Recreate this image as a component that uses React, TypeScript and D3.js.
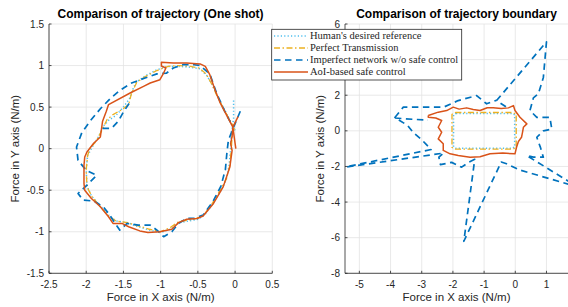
import React from 'react'
import * as d3 from 'd3'

type Pt = [number, number]

// tick values for both panels
const oneShotTicksX = [-2.5, -2, -1.5, -1, -0.5, 0, 0.5]
const oneShotTicksY = [-1.5, -1, -0.5, 0, 0.5, 1, 1.5]
const boundaryTicksX = [-5, -4, -3, -2, -1, 0, 1]
const boundaryTicksY = [-8, -6, -4, -2, 0, 2, 4, 6]

const legendLabels = [
	"Human's desired reference",
	'Perfect Transmission',
	'Imperfect network w/o safe control',
	'AoI-based safe control',
]

// --- left panel: one shot trajectories ---
const oneShotReference: Pt[] = [
	[-0.02, 0.58], [-0.02, 0.36], [-0.05, 0.2], [-0.06, 0.0], [-0.08, -0.2], [-0.12, -0.38],
	[-0.2, -0.52], [-0.3, -0.66], [-0.4, -0.79], [-0.5, -0.85], [-0.62, -0.87], [-0.75, -0.89],
	[-0.85, -0.96], [-1.0, -1.01], [-1.15, -0.98], [-1.3, -0.94], [-1.45, -0.89], [-1.6, -0.87],
	[-1.7, -0.8], [-1.82, -0.68], [-1.93, -0.57], [-1.99, -0.45], [-2.0, -0.25], [-1.98, -0.08],
	[-1.9, 0.05], [-1.83, 0.15], [-1.78, 0.26], [-1.7, 0.34], [-1.6, 0.4], [-1.5, 0.5],
	[-1.42, 0.6], [-1.38, 0.7], [-1.33, 0.8], [-1.2, 0.88], [-1.05, 0.95], [-0.9, 0.99],
	[-0.75, 0.99], [-0.6, 0.98], [-0.47, 0.96], [-0.38, 0.88], [-0.3, 0.76], [-0.22, 0.6],
	[-0.13, 0.45], [-0.05, 0.3], [0.0, 0.22],
]

const oneShotPerfect: Pt[] = [
	[-0.01, 0.25], [-0.04, 0.15], [-0.05, 0.0], [-0.07, -0.2], [-0.12, -0.37], [-0.2, -0.5],
	[-0.3, -0.65], [-0.42, -0.8], [-0.52, -0.84], [-0.64, -0.86], [-0.76, -0.88], [-0.87, -0.95],
	[-1.0, -1.0], [-1.15, -0.97], [-1.3, -0.93], [-1.45, -0.89], [-1.6, -0.87], [-1.7, -0.81],
	[-1.82, -0.69], [-1.92, -0.58], [-1.99, -0.46], [-2.0, -0.25], [-1.98, -0.08], [-1.95, 0.0],
	[-1.86, 0.1], [-1.79, 0.22], [-1.72, 0.35], [-1.64, 0.41], [-1.52, 0.47], [-1.43, 0.53],
	[-1.39, 0.67], [-1.32, 0.8], [-1.2, 0.87], [-1.05, 0.94], [-0.9, 0.99], [-0.75, 1.0],
	[-0.6, 0.99], [-0.48, 0.97], [-0.39, 0.9], [-0.31, 0.77], [-0.23, 0.61], [-0.14, 0.46],
	[-0.06, 0.32], [-0.02, 0.27],
]

// NaN splits the dashed track into its two visible pieces
const oneShotImperfect: Pt[] = [
	[0.07, 0.45], [-0.02, 0.26], [-0.09, 0.1], [-0.11, -0.05], [-0.13, -0.25], [-0.19, -0.45],
	[-0.3, -0.64], [-0.43, -0.8], [-0.55, -0.84], [-0.65, -0.84], [-0.76, -0.9], [-0.85, -1.0],
	[-0.96, -1.06], [-1.05, -0.98], [-1.14, -0.92], [-1.3, -0.92], [-1.45, -0.9], [-1.55, -0.98],
	[-1.61, -0.9], [-1.7, -0.78], [-1.77, -0.7], [-1.9, -0.63], [-2.04, -0.62], [-2.11, -0.54],
	[-1.99, -0.44], [-1.86, -0.32], [-2.0, -0.26], [-2.11, -0.14], [-2.13, 0.02], [-2.06, 0.19],
	[-1.95, 0.33], [-1.81, 0.48], [-1.68, 0.6], [-1.55, 0.7], [-1.39, 0.79], [-1.21, 0.85],
	[-1.05, 0.9], [-0.92, 0.91], [-0.83, 0.97], [-0.7, 1.01], [-0.55, 1.01], [-0.47, 1.0],
	[-0.34, 0.9], [-0.25, 0.67], [-0.14, 0.45], [-0.04, 0.28],
	[NaN, NaN],
	[-1.78, 0.245], [-1.66, 0.245], [-1.57, 0.33], [-1.5, 0.44], [-1.42, 0.55],
]

const oneShotAoI: Pt[] = [
	[0.01, 0.0], [-0.01, 0.13], [-0.03, 0.26], [-0.13, 0.43], [-0.2, 0.55], [-0.27, 0.71],
	[-0.34, 0.89], [-0.4, 0.99], [-0.47, 1.02], [-0.65, 1.03], [-0.83, 1.03], [-0.99, 1.04],
	[-0.99, 0.995], [-0.93, 0.97], [-0.96, 0.91], [-1.01, 0.83], [-1.14, 0.79], [-1.23, 0.75],
	[-1.41, 0.67], [-1.7, 0.53], [-1.73, 0.45], [-1.78, 0.33], [-1.81, 0.14], [-1.9, 0.065],
	[-1.99, -0.04], [-2.02, -0.1], [-2.03, -0.2], [-2.03, -0.42], [-2.02, -0.5], [-1.93, -0.6],
	[-1.81, -0.7], [-1.7, -0.82], [-1.64, -0.9], [-1.52, -0.9], [-1.43, -0.94], [-1.28, -0.99],
	[-1.17, -1.01], [-1.01, -1.0], [-0.85, -0.97], [-0.76, -0.89], [-0.65, -0.85], [-0.51, -0.84],
	[-0.43, -0.81], [-0.29, -0.66], [-0.16, -0.46], [-0.07, -0.22], [-0.04, -0.02], [-0.06, 0.06],
	[-0.04, 0.15], [-0.03, 0.26], [0.04, 0.385],
]

// --- right panel: boundary trajectories ---
const boundaryReference: Pt[] = [
	[-1.9, 0.98], [-0.1, 0.98], [-0.02, 0.9], [-0.02, -0.9], [-0.1, -0.98], [-1.9, -0.98],
	[-1.98, -0.9], [-1.98, 0.9], [-1.9, 0.98],
]

const boundaryPerfect: Pt[] = [
	[-1.92, 1.03], [-0.08, 1.03], [0.03, 0.93], [0.03, -0.93], [-0.08, -1.03], [-1.92, -1.03],
	[-2.03, -0.93], [-2.03, 0.93], [-1.92, 1.03],
]

const boundaryImperfect: Pt[] = [
	[-0.3, 1.35], [-0.6, 1.7], [1.0, 5.0], [0.9, 3.0], [0.74, 2.08], [0.58, 1.85], [0.47, 1.14],
	[0.69, 0.76], [1.11, 0.76], [1.17, 0.1], [0.9, 0.0], [0.69, -0.36], [0.8, -0.9], [0.9, -1.48],
	[0.58, -1.48], [0.37, -1.39], [2.0, -3.15], [0.15, -2.2], [-0.28, -1.85], [-0.45, -1.75],
	[-1.65, -6.2], [-1.3, -1.6], [-1.5, -1.77], [-1.72, -2.04], [-2.04, -1.77], [-2.4, -1.9],
	[-2.45, -1.48], [-2.3, -1.25], [-5.6, -2.08], [-2.7, -1.05], [-3.0, -0.5], [-3.27, -0.1],
	[-3.45, 0.3], [-3.86, 0.75], [-3.59, 1.33], [-2.3, 1.33], [-1.83, 1.7], [-1.24, 1.98],
	[-0.92, 1.52], [-0.6, 1.72],
	[NaN, NaN],
	[-3.86, 0.72], [-3.3, 0.65], [-2.8, 0.6],
]

const boundaryAoI: Pt[] = [
	[-2.79, 0.86], [-2.47, 1.05], [-2.2, 1.14], [-1.99, 1.33], [-1.8, 1.22], [-1.56, 1.29],
	[-1.35, 1.2], [-1.13, 1.14], [-0.9, 1.3], [-0.71, 1.29], [-0.45, 1.25], [-0.22, 1.29],
	[-0.06, 1.42], [-0.01, 1.14], [0.15, 0.76], [0.37, 0.39], [0.26, 0.2], [0.23, -0.1],
	[0.2, -0.36], [0.1, -0.6], [0.04, -0.92], [-0.01, -1.29], [-0.4, -1.25], [-0.81, -1.29],
	[-1.13, -1.45], [-1.45, -1.48], [-1.83, -1.39], [-2.09, -1.29], [-2.31, -1.1], [-2.31, -0.73],
	[-2.47, -0.45], [-2.36, -0.08], [-2.47, 0.2], [-2.36, 0.58], [-2.55, 0.72], [-2.79, 0.76],
	[-2.79, 0.86],
]

const seriesStyles = [
	{ color: '#4DBEEE', width: 1.5, dash: '1.2,2.2' },
	{ color: '#EDB120', width: 1.3, dash: '6,2.5,1.5,2.5' },
	{ color: '#0072BD', width: 1.7, dash: '6.5,4.5' },
	{ color: '#D95319', width: 1.5, dash: undefined as string | undefined },
]

const W = 568
const H = 307
const top = 24
const bottom = 273.3
const axisColor = '#262626'
const font = 'Liberation Sans, Arial, Helvetica, sans-serif'

const legendBox = { x: 271.7, y: 29.3, w: 190, h: 50.7 }

function Panel({ id, x, y, ticksX, ticksY, series, title, titleX, yLabelX, hideTick }: any) {
	const [x0, x1] = x.range()
	const line = d3
		.line<Pt>()
		.defined(d => !isNaN(d[0]))
		.x(d => x(d[0]))
		.y(d => y(d[1]))
	return (
		<g>
			<defs>
				<clipPath id={id}>
					<rect x={x0} y={top} width={x1 - x0} height={bottom - top} />
				</clipPath>
			</defs>
			{ticksX.map((t: number) => (
				<line key={'gx' + t} x1={x(t)} x2={x(t)} y1={top} y2={bottom} stroke="#e3e3e3" strokeWidth={0.8} />
			))}
			{ticksY.map((t: number) => (
				<line key={'gy' + t} x1={x0} x2={x1} y1={y(t)} y2={y(t)} stroke="#e3e3e3" strokeWidth={0.8} />
			))}
			<g clipPath={`url(#${id})`}>
				{series.map((s: Pt[], i: number) => (
					<path
						key={i}
						d={line(s) || ''}
						fill="none"
						stroke={seriesStyles[i].color}
						strokeWidth={seriesStyles[i].width}
						strokeDasharray={seriesStyles[i].dash}
						strokeLinejoin="round"
					/>
				))}
			</g>
			<line x1={x0} x2={x0} y1={top} y2={bottom} stroke={axisColor} strokeWidth={0.8} />
			<line x1={x0} x2={x1} y1={bottom} y2={bottom} stroke={axisColor} strokeWidth={0.8} />
			{ticksX.map((t: number) => (
				<g key={'tx' + t}>
					<line x1={x(t)} x2={x(t)} y1={bottom} y2={bottom - 2.5} stroke={axisColor} strokeWidth={0.8} />
					<text x={x(t)} y={bottom + 15} textAnchor="middle" fontSize={10} fill={axisColor} fontFamily={font}>
						{String(t)}
					</text>
				</g>
			))}
			{ticksY.map((t: number) => (
				<g key={'ty' + t}>
					<line x1={x0} x2={x0 + 2.5} y1={y(t)} y2={y(t)} stroke={axisColor} strokeWidth={0.8} />
					{t !== hideTick && (
						<text x={x0 - 5} y={y(t) + 3.5} textAnchor="end" fontSize={10} fill={axisColor} fontFamily={font}>
							{String(t)}
						</text>
					)}
				</g>
			))}
			<text x={(x0 + x1) / 2} y={301} textAnchor="middle" fontSize={11.5} fill={axisColor} fontFamily={font}>
				Force in X axis (N/m)
			</text>
			<text
				transform={`translate(${yLabelX},${(top + bottom) / 2}) rotate(-90)`}
				textAnchor="middle"
				fontSize={11.5}
				fill={axisColor}
				fontFamily={font}
			>
				Force in Y axis (N/m)
			</text>
			<text x={titleX} y={18} textAnchor="middle" fontSize={12} fontWeight="bold" fill="#000" fontFamily={font}>
				{title}
			</text>
		</g>
	)
}

export default function App() {
	const xL = d3.scaleLinear().domain([-2.5, 0.5]).range([49, 272.3])
	const yL = d3.scaleLinear().domain([-1.5, 1.5]).range([bottom, top])
	const xR = d3.scaleLinear().domain([-5.46, 1.69]).range([345, 568])
	const yR = d3.scaleLinear().domain([-8, 6]).range([bottom, top])

	return (
		<svg width={W} height={H} style={{ position: 'absolute', left: 0, top: 0, background: '#fff' }}>
			<rect width={W} height={H} fill="#fff" />
			<Panel
				id="clipL"
				x={xL}
				y={yL}
				ticksX={oneShotTicksX}
				ticksY={oneShotTicksY}
				series={[oneShotReference, oneShotPerfect, oneShotImperfect, oneShotAoI]}
				title="Comparison of trajectory (One shot)"
				titleX={160.6}
				yLabelX={19}
			/>
			<Panel
				id="clipR"
				x={xR}
				y={yR}
				ticksX={boundaryTicksX}
				ticksY={boundaryTicksY}
				series={[boundaryReference, boundaryPerfect, boundaryImperfect, boundaryAoI]}
				title="Comparison of trajectory boundary"
				titleX={456.5}
				yLabelX={324}
				hideTick={4}
			/>
			<g>
				<rect
					x={legendBox.x}
					y={legendBox.y}
					width={legendBox.w}
					height={legendBox.h}
					fill="#fff"
					stroke={axisColor}
					strokeWidth={0.8}
				/>
				{legendLabels.map((label, i) => {
					const cy = 36 + i * 12
					const s = seriesStyles[i]
					return (
						<g key={label}>
							<line x1={274} x2={308} y1={cy} y2={cy} stroke={s.color} strokeWidth={s.width} strokeDasharray={s.dash} />
							<text
								x={310}
								y={cy + 3.4}
								fontSize={10.5}
								fill={axisColor}
								fontFamily="Liberation Serif, Times New Roman, serif"
							>
								{label}
							</text>
						</g>
					)
				})}
			</g>
		</svg>
	)
}
